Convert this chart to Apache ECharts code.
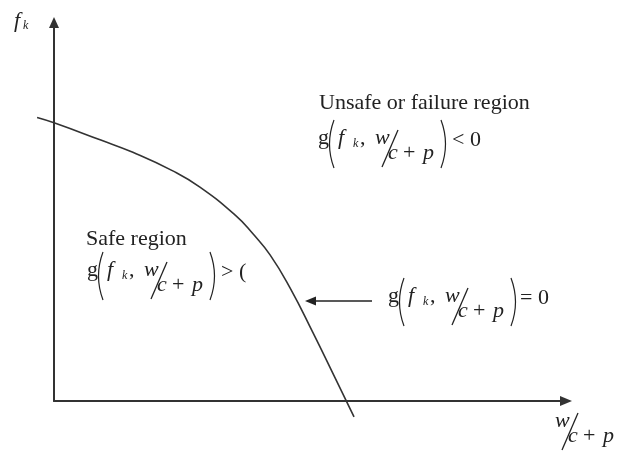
<!DOCTYPE html>
<html>
<head>
<meta charset="utf-8">
<script src="https://cdn.jsdelivr.net/npm/echarts@6/dist/echarts.min.js"></script>
<style>
  html, body { margin: 0; padding: 0; background: #fff; }
  #chart { width: 623px; height: 458px; }
</style>
</head>
<body>
<div id="chart"></div>
<script>
// Limit-state curve g(f_k, w/(c+p)) = 0, in axis units (0–100 on both axes)
const curveX = [-3.3, 0, 9.0, 15.4, 23.2, 28.5, 35.4, 38.9, 42.2, 46.1, 50.6, 54.9, 58.6];
const curveY = [74.9, 73.5, 69.0, 65.7, 60.8, 56.5, 49.1, 44.1, 38.6, 29.9, 18.0, 6.1, -4.2];

const regionTitles = ['Unsafe or failure region', 'Safe region'];
const relations = ['< 0', '> (', '= 0'];

const SERIF = "'Liberation Serif', 'Times New Roman', serif";
const INK = '#222';
const LINE = '#333';
const SIZE = 22;

// text placed by its left edge and alphabetic baseline
function txt(x, baseline, text, italic, size) {
  size = size || SIZE;
  return {
    type: 'text', x: x, y: baseline - 0.33 * size, silent: true,
    style: {
      text: text, fontFamily: SERIF, fontSize: size,
      fontStyle: italic ? 'italic' : 'normal',
      fill: INK, align: 'left', verticalAlign: 'middle'
    }
  };
}

function stroke(type, shape, w) {
  return { type: type, shape: shape, silent: true,
    style: { stroke: INK, lineWidth: w || 1.2, fill: null } };
}

// tall parenthesis as a quadratic curve; dir = -1 gives "(", +1 gives ")"
function paren(x, y, h, dir) {
  return stroke('bezierCurve', { x1: x, y1: y, x2: x, y2: y + h, cpx1: x + dir * 9, cpy1: y + h / 2 });
}

// slanted fraction w / (c + p); (x, b) = left edge and baseline of "w"
function fraction(x, b) {
  return [
    txt(x, b, 'w', true),
    stroke('line', { x1: x + 23, y1: b - 15, x2: x + 7, y2: b + 22 }, 1.3),
    txt(x + 13, b + 15, 'c', true),
    txt(x + 28, b + 15, '+', false),
    txt(x + 48, b + 15, 'p', true)
  ];
}

// g( f_k , w/(c+p) ) <relation>; (x, y) = left of "g", top of the parentheses
function formula(x, y, relation, relX) {
  const b = y + 25;
  return [
    txt(x, b, 'g', false),
    paren(x + 16, y, 48, -1),
    txt(x + 20, b, 'f', true),
    txt(x + 35, b + 3, 'k', true, 12),
    txt(x + 42, b, ',', false),
    ...fraction(x + 57, b),
    paren(x + 123, y, 48, 1),
    txt(x + (relX || 134), b + 2, relation, false)
  ];
}

const graphics = [
  // vertical axis name f_k
  txt(14, 28, 'f', true),
  txt(23, 30, 'k', true, 12),
  // horizontal axis name w/(c+p)
  ...fraction(555, 428),
  // region descriptions
  txt(319, 110, regionTitles[0], false),
  ...formula(318, 120, relations[0]),
  txt(86, 246, regionTitles[1], false),
  ...formula(87, 252, relations[1]),
  // pointer to the limit-state curve
  ...formula(388, 278, relations[2], 132),
  stroke('line', { x1: 372, y1: 301, x2: 313, y2: 301 }, 1.6),
  { type: 'polygon', silent: true, shape: { points: [[305, 301], [316, 296.5], [316, 305.5]] },
    style: { fill: INK } }
];

const chart = echarts.init(document.getElementById('chart'));
const hidden = { axisLine: { show: false }, axisTick: { show: false },
  axisLabel: { show: false }, splitLine: { show: false } };
const arrowLine = (len) => ({ show: true, symbol: ['none', 'triangle'], symbolSize: [10, len],
  lineStyle: { color: LINE, width: 2 } });

// grid 0 carries the two visible axes; grid 1 has the same scale but starts
// five units further left so the curve can run past the vertical axis
chart.setOption({
  animation: false,
  backgroundColor: '#fff',
  grid: [
    { left: 54, right: 57, top: 22.5, bottom: 57 },
    { left: 28.4, right: 57, top: 22.5, bottom: 57 }
  ],
  xAxis: [
    Object.assign({ type: 'value', min: 0, max: 100, gridIndex: 0 }, hidden, { axisLine: arrowLine(12) }),
    Object.assign({ type: 'value', min: -5, max: 100, gridIndex: 1 }, hidden)
  ],
  yAxis: [
    Object.assign({ type: 'value', min: 0, max: 100, gridIndex: 0 }, hidden, { axisLine: arrowLine(11) }),
    Object.assign({ type: 'value', min: 0, max: 100, gridIndex: 1 }, hidden)
  ],
  series: [{
    type: 'line',
    xAxisIndex: 1,
    yAxisIndex: 1,
    data: curveX.map((x, i) => [x, curveY[i]]),
    smooth: 0.5,
    symbol: 'none',
    clip: false,
    lineStyle: { color: LINE, width: 1.6 }
  }],
  graphic: graphics
});
</script>
</body>
</html>
